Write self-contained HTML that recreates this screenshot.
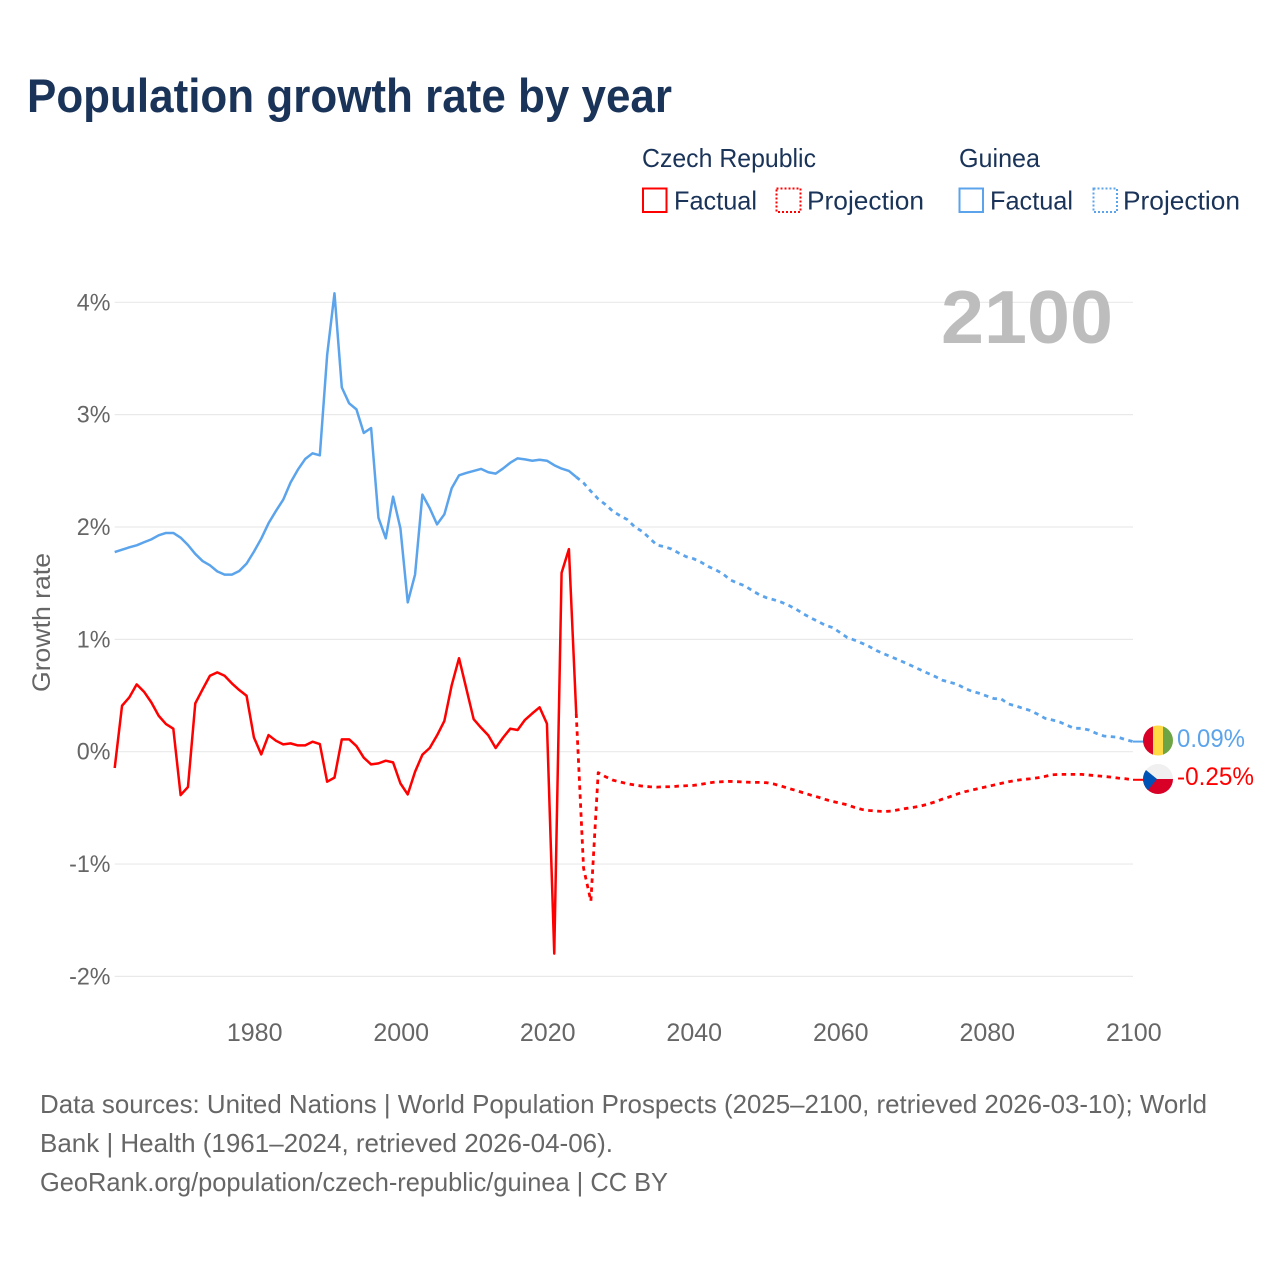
<!DOCTYPE html>
<html lang="en">
<head>
<meta charset="utf-8">
<title>Population growth rate by year</title>
<style>
html,body{margin:0;padding:0;background:#fff;width:1280px;height:1280px;overflow:hidden}
svg{display:block}
text{font-family:"Liberation Sans",sans-serif}
</style>
</head>
<body>
<svg id="chart" xmlns="http://www.w3.org/2000/svg" width="1280" height="1280" viewBox="0 0 1280 1280">
  <rect width="1280" height="1280" fill="#fff"/>
  <text x="27" y="112" font-size="47" font-weight="700" fill="#1a3358" textLength="645" lengthAdjust="spacingAndGlyphs">Population growth rate by year</text>

  <g font-size="26" fill="#1a3358">
    <text x="642" y="167" textLength="174" lengthAdjust="spacingAndGlyphs">Czech Republic</text>
    <text x="959" y="167" textLength="81" lengthAdjust="spacingAndGlyphs">Guinea</text>
    <rect x="643" y="188.5" width="23.5" height="23.5" fill="none" stroke="#ff0000" stroke-width="2"/>
    <text x="674" y="209.5" textLength="83" lengthAdjust="spacingAndGlyphs">Factual</text>
    <rect x="776.5" y="188.5" width="24" height="23.5" fill="none" stroke="#ff0000" stroke-width="2" stroke-dasharray="2 2"/>
    <text x="807" y="209.5" textLength="117" lengthAdjust="spacingAndGlyphs">Projection</text>
    <rect x="959.5" y="188.5" width="23.5" height="23.5" fill="none" stroke="#5ba4ec" stroke-width="2"/>
    <text x="990" y="209.5" textLength="83" lengthAdjust="spacingAndGlyphs">Factual</text>
    <rect x="1093.5" y="188.5" width="23.5" height="23.5" fill="none" stroke="#5ba4ec" stroke-width="2" stroke-dasharray="2 2"/>
    <text x="1123" y="209.5" textLength="117" lengthAdjust="spacingAndGlyphs">Projection</text>
  </g>

  <g id="grid"></g>
  <text x="941" y="343" font-size="75" font-weight="700" fill="#bdbdbd" textLength="172" lengthAdjust="spacingAndGlyphs">2100</text>
  <g id="yticks" font-size="24.5" fill="#666"></g>
  <g id="xticks" font-size="25" fill="#666"></g>
  <text transform="translate(50 692) rotate(-90)" font-size="25" fill="#666" textLength="139" lengthAdjust="spacingAndGlyphs">Growth rate</text>

  <g id="series" fill="none" stroke-linejoin="round"></g>

  <defs>
    <clipPath id="clip-guinea"><circle cx="1158" cy="740.5" r="15"/></clipPath>
    <clipPath id="clip-czech"><circle cx="1158" cy="779" r="15"/></clipPath>
  </defs>
  <g clip-path="url(#clip-guinea)">
    <rect x="1143" y="725" width="10" height="31" fill="#d80027"/>
    <rect x="1153" y="725" width="10" height="31" fill="#ffda44"/>
    <rect x="1163" y="725" width="10" height="31" fill="#6da544"/>
  </g>
  <g clip-path="url(#clip-czech)">
    <rect x="1143" y="764" width="30" height="15" fill="#f0f0f0"/>
    <rect x="1143" y="779" width="30" height="15" fill="#d80027"/>
    <polygon points="1141,766 1157,779 1148,790 1141,792" fill="#0052b4"/>
  </g>
  <text id="label-guinea" x="1177" y="747" font-size="25" fill="#5ba4ec" textLength="68" lengthAdjust="spacingAndGlyphs"></text>
  <text id="label-czech" x="1177" y="785" font-size="25" fill="#ff0000" textLength="77" lengthAdjust="spacingAndGlyphs"></text>

  <g font-size="26" fill="#666">
    <text x="40" y="1113" textLength="1167" lengthAdjust="spacingAndGlyphs">Data sources: United Nations | World Population Prospects (2025–2100, retrieved 2026-03-10); World</text>
    <text x="40" y="1152" textLength="573" lengthAdjust="spacingAndGlyphs">Bank | Health (1961–2024, retrieved 2026-04-06).</text>
    <text x="40" y="1191" textLength="628" lengthAdjust="spacingAndGlyphs">GeoRank.org/population/czech-republic/guinea | CC BY</text>
  </g>
</svg>
<script>
// Chart data (growth rate in percent)
const factualStartYear = 1961;
const projectionStartYear = 2024;
const xTickYears = [1980, 2000, 2020, 2040, 2060, 2080, 2100];
const yTickValues = [-2, -1, 0, 1, 2, 3, 4];
const guineaFactual = [1.777,1.798,1.819,1.837,1.864,1.890,1.926,1.947,1.947,1.905,1.840,1.760,1.697,1.659,1.605,1.576,1.576,1.608,1.674,1.780,1.896,2.033,2.142,2.243,2.395,2.510,2.605,2.656,2.638,3.531,4.080,3.243,3.101,3.047,2.837,2.881,2.083,1.899,2.270,1.988,1.329,1.577,2.288,2.168,2.023,2.113,2.345,2.460,2.481,2.499,2.517,2.487,2.475,2.520,2.572,2.611,2.602,2.590,2.599,2.590,2.550,2.520,2.499,2.445];
const guineaProjection = [2.445,2.392,2.318,2.250,2.199,2.140,2.100,2.065,2.000,1.961,1.902,1.839,1.825,1.804,1.768,1.736,1.718,1.688,1.649,1.620,1.584,1.530,1.501,1.477,1.435,1.397,1.370,1.352,1.331,1.302,1.269,1.227,1.192,1.159,1.126,1.105,1.061,1.016,0.993,0.966,0.936,0.900,0.871,0.844,0.817,0.788,0.758,0.728,0.698,0.669,0.636,0.618,0.600,0.565,0.538,0.520,0.496,0.473,0.470,0.425,0.407,0.386,0.366,0.333,0.297,0.282,0.264,0.235,0.208,0.208,0.193,0.163,0.140,0.134,0.128,0.107,0.09];
const czechFactual = [-0.145,0.409,0.484,0.599,0.534,0.439,0.320,0.246,0.205,-0.386,-0.314,0.430,0.555,0.676,0.706,0.676,0.608,0.549,0.498,0.128,-0.024,0.148,0.098,0.065,0.074,0.056,0.056,0.089,0.068,-0.267,-0.231,0.110,0.110,0.050,-0.053,-0.113,-0.104,-0.080,-0.095,-0.282,-0.380,-0.178,-0.027,0.033,0.145,0.274,0.591,0.832,0.561,0.289,0.214,0.145,0.033,0.124,0.205,0.193,0.283,0.341,0.395,0.250,-1.797,1.592,1.803,0.341];
const czechProjection = [0.341,-1.037,-1.330,-0.187,-0.223,-0.253,-0.270,-0.285,-0.297,-0.306,-0.312,-0.315,-0.312,-0.312,-0.306,-0.303,-0.300,-0.291,-0.279,-0.270,-0.267,-0.264,-0.267,-0.270,-0.273,-0.273,-0.276,-0.288,-0.306,-0.327,-0.345,-0.366,-0.386,-0.404,-0.425,-0.443,-0.458,-0.473,-0.496,-0.514,-0.523,-0.529,-0.532,-0.529,-0.517,-0.505,-0.496,-0.484,-0.467,-0.446,-0.422,-0.401,-0.377,-0.357,-0.342,-0.327,-0.312,-0.297,-0.282,-0.267,-0.256,-0.247,-0.241,-0.232,-0.220,-0.205,-0.202,-0.202,-0.202,-0.202,-0.208,-0.214,-0.220,-0.226,-0.235,-0.241,-0.25];

const SVG_NS = 'http://www.w3.org/2000/svg';
const BLUE = '#5ba4ec';
const RED = '#ff0000';
function xScale(year) { return 114.7 + (year - 1961) * (1133 - 114.7) / 139; }
function yScale(value) { return 751.7 - value * 112.35; }
function pathFrom(values, startYear) {
  return values.map(function (v, i) {
    return (i ? 'L' : 'M') + xScale(startYear + i).toFixed(2) + ' ' + yScale(v).toFixed(2);
  }).join(' ');
}

const gridGroup = document.getElementById('grid');
const yTickGroup = document.getElementById('yticks');
yTickValues.forEach(function (v) {
  const line = document.createElementNS(SVG_NS, 'line');
  
  
  line.setAttribute('x1', xScale(1961));
  line.setAttribute('x2', xScale(2100));
  line.setAttribute('y1', yScale(v));
  line.setAttribute('y2', yScale(v));
  line.setAttribute('stroke', '#e9e9e9');
  line.setAttribute('stroke-width', '1.2');
  gridGroup.appendChild(line);
  const label = document.createElementNS(SVG_NS, 'text');
  
  
  label.setAttribute('x', 110.5);
  label.setAttribute('y', yScale(v) + 8);
  label.setAttribute('text-anchor', 'end');
  label.textContent = v + '%';
  yTickGroup.appendChild(label);
  label.setAttribute('lengthAdjust', 'spacingAndGlyphs');
  label.setAttribute('textLength', (label.getComputedTextLength() * 0.95).toFixed(1));
});

const xTickGroup = document.getElementById('xticks');
xTickYears.forEach(function (year) {
  const label = document.createElementNS(SVG_NS, 'text');
  
  
  label.setAttribute('x', xScale(year) + 0.8);
  label.setAttribute('y', 1041);
  label.setAttribute('text-anchor', 'middle');
  label.textContent = year;
  xTickGroup.appendChild(label);
});

const seriesGroup = document.getElementById('series');
function addPath(values, startYear, color, dashed) {
  const path = document.createElementNS(SVG_NS, 'path');
  
  
  path.setAttribute('d', pathFrom(values, startYear));
  path.setAttribute('stroke', color);
  path.setAttribute('stroke-width', '2.5');
  if (dashed) {
    path.setAttribute('stroke-width', '2.8');
    path.setAttribute('stroke-dasharray', '4.5 4.5');
  }
  seriesGroup.appendChild(path);
}
function addConnector(lastValue, color) {
  const line = document.createElementNS(SVG_NS, 'line');
  
  
  line.setAttribute('x1', xScale(2100));
  line.setAttribute('x2', 1145);
  line.setAttribute('y1', yScale(lastValue));
  line.setAttribute('y2', yScale(lastValue));
  line.setAttribute('stroke', color);
  line.setAttribute('stroke-width', '2');
  seriesGroup.appendChild(line);
}
addPath(guineaFactual, factualStartYear, BLUE, false);
addPath(guineaProjection, projectionStartYear, BLUE, true);
addPath(czechFactual, factualStartYear, RED, false);
addPath(czechProjection, projectionStartYear, RED, true);
addConnector(guineaProjection[guineaProjection.length - 1], BLUE);
addConnector(czechProjection[czechProjection.length - 1], RED);

document.getElementById('label-guinea').textContent = guineaProjection[guineaProjection.length - 1].toFixed(2) + '%';
document.getElementById('label-czech').textContent = czechProjection[czechProjection.length - 1].toFixed(2) + '%';
</script>
</body>
</html>
